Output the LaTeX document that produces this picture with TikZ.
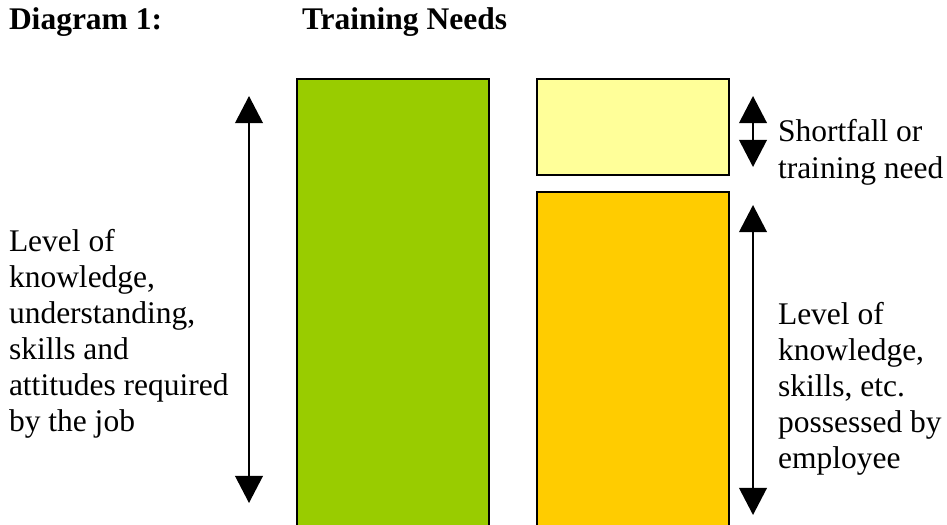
\documentclass[tikz,border=0pt]{standalone}
\usepackage{fontspec}
\setmainfont{Liberation Serif}
\usetikzlibrary{arrows.meta}
\definecolor{jobgreen}{HTML}{99CC00}
\definecolor{gapyellow}{HTML}{FFFF99}
\definecolor{haveorange}{HTML}{FFCC00}
\newcommand{\pxunit}{0.38095pt}
\begin{document}
\begin{tikzpicture}[x=\pxunit,y=-\pxunit,
  bar/.style={draw=black,line width=0.75pt,anchor=north west,inner sep=0pt,outer sep=0pt},
  lbl/.style={anchor=base west,inner sep=0pt,outer sep=0pt,font=\fontsize{12pt}{13.75pt}\selectfont},
  ttl/.style={lbl,font=\fontsize{12pt}{13.75pt}\selectfont\bfseries},
  span/.style={line width=0.75pt,
    {Triangle[length=10.3pt,width=10.5pt]}-{Triangle[length=10.3pt,width=10.5pt]}}]
\useasboundingbox (0,0) rectangle (947,525);

% headings
\node[ttl] (title) at (9,30) {Diagram 1:};
\node[ttl] (heading) at (302,30) {Training Needs};

% bars (the two tall ones run past the lower edge)
\begin{scope}
\clip (0,0) rectangle (947,525);
\node[bar,fill=jobgreen,minimum width=192*\pxunit,minimum height=481*\pxunit]
  (required) at (297,79) {};
\node[bar,fill=gapyellow,minimum width=192*\pxunit,minimum height=96*\pxunit]
  (shortfall) at (537,79) {};
\node[bar,fill=haveorange,minimum width=192*\pxunit,minimum height=368*\pxunit]
  (possessed) at (537,192) {};
\end{scope}

% arrow end points
\coordinate (reqtop) at (249,96);
\coordinate (reqbot) at (249,503);
\coordinate (gaptop) at (753,96);
\coordinate (gapbot) at (753,167);
\coordinate (havetop) at (753,205);
\coordinate (havebot) at (753,515);

\draw[span] (reqtop) -- (reqbot);
\draw[span] (gaptop) -- (gapbot);
\draw[span] (havetop) -- (havebot);

% labels
\node[lbl] (reqtext) at (9,251) {\begin{tabular}[t]{@{}l@{}}Level of\\knowledge,\\understanding,\\skills and\\attitudes required\\by the job\end{tabular}};
\node[lbl] (gaptext) at (778,142) {\begin{tabular}[t]{@{}l@{}}Shortfall or\\training need\end{tabular}};
\node[lbl] (havetext) at (778,324) {\begin{tabular}[t]{@{}l@{}}Level of\\knowledge,\\skills, etc.\\possessed by\\employee\end{tabular}};
\end{tikzpicture}
\end{document}
